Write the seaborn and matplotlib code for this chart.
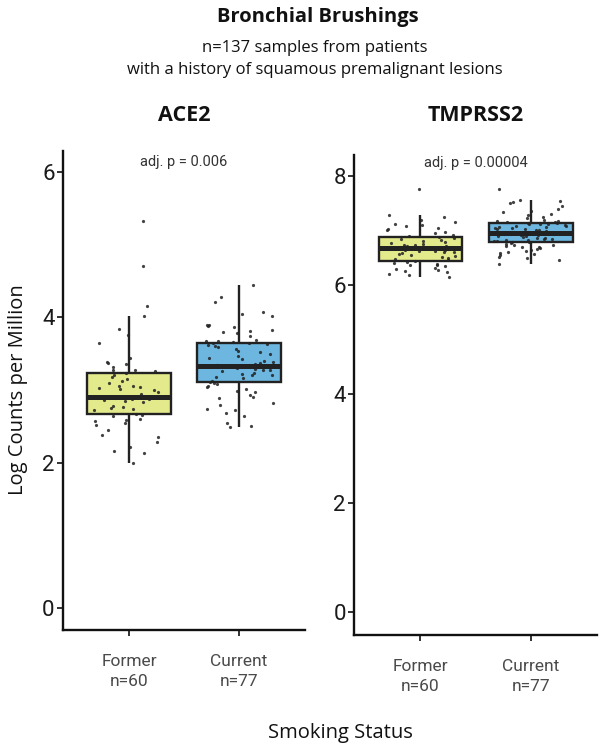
import numpy as np
import pandas as pd
import matplotlib
matplotlib.use("Agg")
import matplotlib.pyplot as plt
import seaborn as sns

# values (log CPM per sample)
groups = ["Former", "Current"]
tick_labels = ["Former\nn=60", "Current\nn=77"]

ace2_former = [
    2.00, 2.14, 2.16, 2.21, 2.29, 2.36, 2.38, 2.45, 2.52, 2.55, 2.57, 2.59, 2.60, 2.64, 2.66,
    2.67, 2.72, 2.74, 2.75, 2.76, 2.78, 2.83, 2.85, 2.86, 2.87, 2.88, 2.89, 2.89, 2.90, 2.90,
    2.91, 2.95, 2.97, 3.00, 3.01, 3.03, 3.04, 3.05, 3.06, 3.09, 3.12, 3.15, 3.18, 3.20, 3.23,
    3.26, 3.27, 3.28, 3.32, 3.36, 3.37, 3.38, 3.44, 3.64, 3.75, 3.84, 4.02, 4.15, 4.71, 5.32,
]
ace2_current = [
    2.49, 2.51, 2.55, 2.64, 2.68, 2.72, 2.74, 2.80, 2.82, 2.89, 2.91, 2.93, 2.97, 2.99, 3.02,
    3.04, 3.06, 3.08, 3.09, 3.11, 3.13, 3.16, 3.18, 3.20, 3.21, 3.22, 3.24, 3.26, 3.27, 3.28,
    3.29, 3.30, 3.31, 3.31, 3.32, 3.32, 3.33, 3.33, 3.33, 3.34, 3.35, 3.36, 3.37, 3.38, 3.40,
    3.42, 3.44, 3.47, 3.50, 3.52, 3.53, 3.56, 3.59, 3.60, 3.62, 3.63, 3.64, 3.65, 3.66, 3.67,
    3.68, 3.69, 3.74, 3.79, 3.80, 3.81, 3.83, 3.87, 3.88, 3.89, 3.90, 4.02, 4.04, 4.07, 4.21,
    4.28, 4.44,
]
tmprss2_former = [
    6.15, 6.18, 6.20, 6.23, 6.25, 6.28, 6.30, 6.32, 6.34, 6.36, 6.37, 6.39, 6.41, 6.43, 6.44,
    6.45, 6.47, 6.49, 6.51, 6.53, 6.55, 6.57, 6.58, 6.60, 6.61, 6.62, 6.63, 6.64, 6.65, 6.66,
    6.68, 6.69, 6.70, 6.71, 6.72, 6.73, 6.74, 6.75, 6.77, 6.79, 6.81, 6.83, 6.85, 6.87, 6.88,
    6.90, 6.92, 6.95, 6.98, 7.00, 7.02, 7.05, 7.08, 7.10, 7.12, 7.15, 7.20, 7.25, 7.29, 7.76,
]
tmprss2_current = [
    6.38, 6.45, 6.49, 6.52, 6.55, 6.57, 6.59, 6.61, 6.63, 6.64, 6.66, 6.67, 6.69, 6.70, 6.71,
    6.73, 6.74, 6.76, 6.77, 6.78, 6.79, 6.80, 6.81, 6.82, 6.83, 6.84, 6.85, 6.86, 6.87, 6.88,
    6.89, 6.90, 6.91, 6.92, 6.93, 6.93, 6.94, 6.94, 6.95, 6.96, 6.97, 6.98, 6.99, 7.00, 7.01,
    7.02, 7.03, 7.04, 7.05, 7.06, 7.07, 7.08, 7.09, 7.10, 7.11, 7.12, 7.12, 7.13, 7.14, 7.15,
    7.16, 7.17, 7.18, 7.20, 7.22, 7.25, 7.28, 7.30, 7.33, 7.36, 7.40, 7.45, 7.50, 7.52, 7.54,
    7.56, 7.76,
]

genes = ["ACE2", "TMPRSS2"]
pvals = ["adj. p = 0.006", "adj. p = 0.00004"]
pval_y = [6.13, 8.23]
yticks = [[0, 2, 4, 6], [0, 2, 4, 6, 8]]
ylims = [(-0.30, 6.29), (-0.42, 8.38)]

palette = {"Former": "#e3ea8b", "Current": "#6cb6df"}

sns.set_style("white")
np.random.seed(3)

title_font = ["Open Sans", "DejaVu Sans"]
tick_font = ["Roboto", "DejaVu Sans"]

fig = plt.figure(figsize=(6, 7.5), dpi=100)
ax1 = fig.add_axes([0.105, 0.160, 0.403, 0.639])
ax2 = fig.add_axes([0.5905, 0.1533, 0.4045, 0.6397])

data = [(ace2_former, ace2_current), (tmprss2_former, tmprss2_current)]
title_x = [0.307, 0.793]

for i, ax in enumerate([ax1, ax2]):
    former, current = data[i]
    df = pd.DataFrame({
        "status": ["Former"] * len(former) + ["Current"] * len(current),
        "value": former + current,
    })
    sns.boxplot(data=df, x="status", y="value", hue="status", order=groups,
                hue_order=groups, palette=palette, legend=False, ax=ax,
                width=0.76, linecolor="#222222", linewidth=1.7,
                showfliers=False, showcaps=False, saturation=1,
                medianprops=dict(linewidth=3.6, color="#222222"))
    sns.stripplot(data=df, x="status", y="value", order=groups, ax=ax,
                  color="#222222", size=2.3, jitter=0.33, alpha=0.85,
                  linewidth=0)

    ax.set_xlim(-0.6, 1.6)
    ax.set_ylim(*ylims[i])
    ax.set_yticks(yticks[i])
    ax.set_yticklabels([str(t) for t in yticks[i]], fontsize=16,
                       family=tick_font, color="#1a1a1a")
    ax.set_xticks([0, 1])
    ax.set_xticklabels(tick_labels, fontsize=12.5, family=tick_font,
                       color="#4a4a4a", linespacing=1.45)
    ax.set_xlabel("")
    ax.set_ylabel("")
    ax.tick_params(axis="both", length=4, width=1.3, color="#222222",
                   left=True, bottom=True)
    ax.tick_params(axis="x", pad=13)
    ax.tick_params(axis="y", pad=2)
    for side in ["top", "right"]:
        ax.spines[side].set_visible(False)
    for side in ["left", "bottom"]:
        ax.spines[side].set_color("#111111")
        ax.spines[side].set_linewidth(1.7)

    ax.text(0.5, pval_y[i], pvals[i], ha="center", va="center", fontsize=10.5,
            family=tick_font, color="#333333")
    fig.text(title_x[i], 0.846, genes[i], ha="center", va="center", fontsize=15.5,
             fontweight="bold", family=title_font, color="#111111")

fig.text(0.53, 0.977, "Bronchial Brushings", ha="center", va="center",
         fontsize=14.5, fontweight="bold", family=title_font, color="#111111")
fig.text(0.525, 0.921, "n=137 samples from patients\nwith a history of squamous premalignant lesions",
         ha="center", va="center", fontsize=12, family=title_font,
         color="#111111", linespacing=1.5)
fig.text(0.03, 0.48, "Log Counts per Million", rotation=90, ha="center",
         va="center", fontsize=14.5, family=title_font, color="#111111")
fig.text(0.567, 0.023, "Smoking Status", ha="center", va="center",
         fontsize=14.5, family=title_font, color="#111111")

fig.savefig("out.png", dpi=100)
